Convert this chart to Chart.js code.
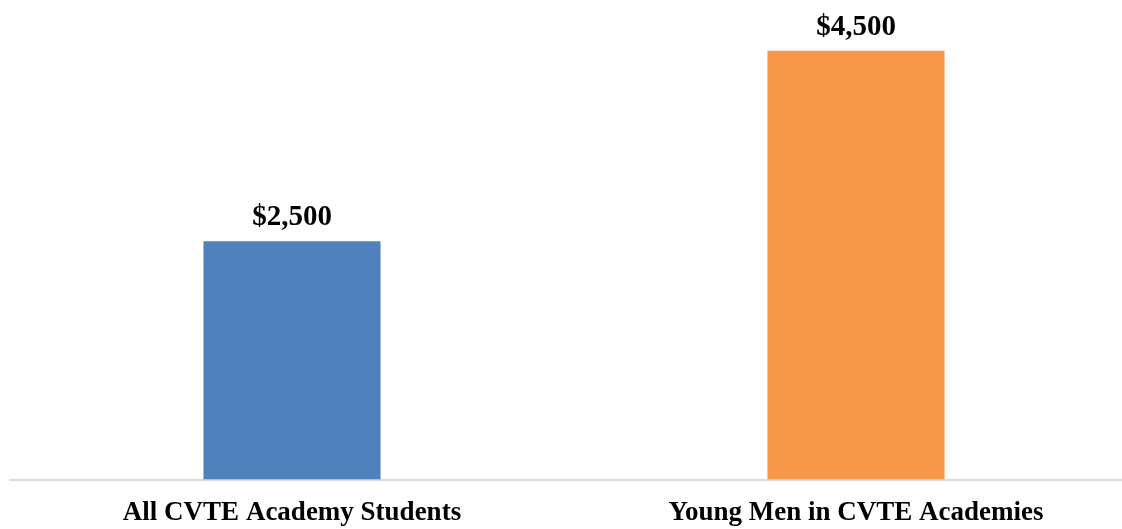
<!DOCTYPE html>
<html>
<head>
<meta charset="utf-8">
<script src="https://cdn.jsdelivr.net/npm/chart.js"></script>
<style>
  html, body { margin: 0; padding: 0; background: #fff; overflow: hidden; }
  #chart { display: block; }
</style>
</head>
<body>
<canvas id="chart" width="1138" height="546"></canvas>
<script>
// chart values
const categories = ['All CVTE Academy Students', 'Young Men in CVTE Academies'];
const amounts = [2500, 4500];
const barColors = ['#4F81BD', '#F79646'];

const labelFont = '"Liberation Serif", "DejaVu Serif", serif';

// draws the $ value above each bar
const valueLabels = {
    id: 'valueLabels',
    afterDatasetsDraw(chart) {
        const ctx = chart.ctx;
        const meta = chart.getDatasetMeta(0);
        ctx.save();
        ctx.font = 'bold 29px ' + labelFont;
        ctx.fillStyle = '#000';
        ctx.textAlign = 'center';
        ctx.textBaseline = 'alphabetic';
        meta.data.forEach((bar, i) => {
            ctx.fillText('$' + amounts[i].toLocaleString('en-US'), bar.x, bar.y - 16);
        });
        ctx.restore();
    }
};

new Chart(document.getElementById('chart'), {
    type: 'bar',
    data: {
        labels: categories,
        datasets: [{
            data: amounts,
            backgroundColor: barColors,
            categoryPercentage: 1,
            barPercentage: 0.314
        }]
    },
    options: {
        responsive: false,
        animation: false,
        layout: { padding: { left: 10, top: 3, right: 0, bottom: 0 } },
        plugins: {
            legend: { display: false },
            tooltip: { enabled: false }
        },
        scales: {
            x: {
                grid: { display: false, drawTicks: false },
                border: { display: true, color: '#d9d9d9', width: 2 },
                ticks: {
                    color: '#000',
                    padding: 17,
                    font: { family: labelFont, size: 27, weight: 'bold' }
                }
            },
            y: {
                display: false,
                min: 0,
                max: 5000
            }
        }
    },
    plugins: [valueLabels]
});
</script>
</body>
</html>
